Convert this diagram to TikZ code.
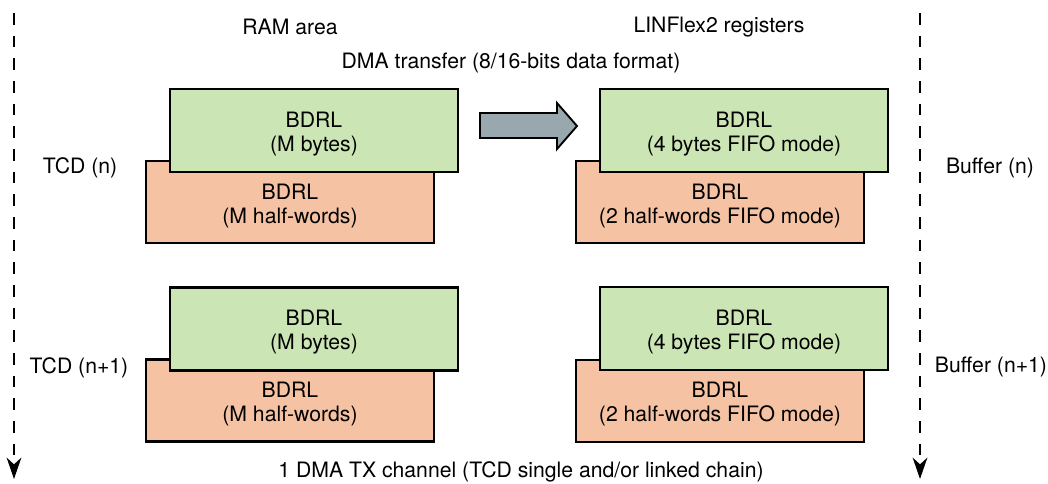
\documentclass[tikz,border=0pt]{standalone}
\usepackage{fontspec}
\setmainfont{TeX Gyre Heros}
\usetikzlibrary{arrows.meta}
\definecolor{gfill}{HTML}{CCE5B5}
\definecolor{ofill}{HTML}{F5C2A3}
\definecolor{afill}{HTML}{98A8AE}
\begin{document}
\begin{tikzpicture}[x=0.75pt,y=-0.75pt,
  every node/.style={font=\fontsize{15.9pt}{18pt}\selectfont, inner sep=0pt, align=center},
  greenbox/.style={draw=black, line width=1.7pt, fill=gfill, minimum width=216pt, minimum height=62.25pt},
  orangebox/.style={draw=black, line width=1.7pt, fill=ofill, minimum width=216pt, minimum height=61.5pt},
  timeline/.style={draw=black, line width=1.7pt, dash pattern=on 8.7pt off 8.3pt, -{Stealth[length=16pt,width=11pt,inset=5pt]}},
  blockarrow/.style={draw=black, line width=1.4pt, fill=afill, line join=miter}
]
\useasboundingbox (0,0) rectangle (1048,483);

% time lines
\coordinate (l1) at (14,13);
\coordinate (l2) at (14,479);
\coordinate (r1) at (920,13);
\coordinate (r2) at (920,479);
\draw[timeline] (l1) -- (l2);
\draw[timeline] (r1) -- (r2);

% headers
\node (ram) at (290,27) {RAM area};
\node (lin) at (719,27) {LINFlex2 registers};
\node (dma) at (511,63) {DMA transfer (8/16-bits data format)};
\node (chan) at (521,472) {1 DMA TX channel (TCD single and/or linked chain)};

% side labels
\node (tcdn) at (80,168) {TCD (n)};
\node (tcdn1) at (79,368) {TCD (n+1)};
\node (bufn) at (990,168) {Buffer (n)};
\node (bufn1) at (991,367) {Buffer (n+1)};

% row 1
\node[orangebox] (o1) at (290,202) {};
\node (o1t) at (290,206) {BDRL\\(M half-words)};
\node[greenbox] (g1) at (314,130.5) {};
\node (g1t) at (314,134) {BDRL\\(M bytes)};
\node[orangebox] (o2) at (720,202) {};
\node (o2t) at (720,206) {BDRL\\(2 half-words FIFO mode)};
\node[greenbox] (g2) at (744,130.5) {};
\node (g2t) at (744,134) {BDRL\\(4 bytes FIFO mode)};

% row 2
\node[orangebox] (o3) at (290,400.5) {};
\node (o3t) at (290,404) {BDRL\\(M half-words)};
\node[greenbox] (g3) at (314,329) {};
\node (g3t) at (314,332.5) {BDRL\\(M bytes)};
\node[orangebox] (o4) at (720,401) {};
\node (o4t) at (720,404) {BDRL\\(2 half-words FIFO mode)};
\node[greenbox] (g4) at (744,328.5) {};
\node (g4t) at (744,332.5) {BDRL\\(4 bytes FIFO mode)};

% block arrow
\draw[blockarrow] (480,113) -- (557,113) -- (557,103) -- (577,126) -- (557,149) -- (557,138) -- (480,138) -- cycle;
\end{tikzpicture}
\end{document}
